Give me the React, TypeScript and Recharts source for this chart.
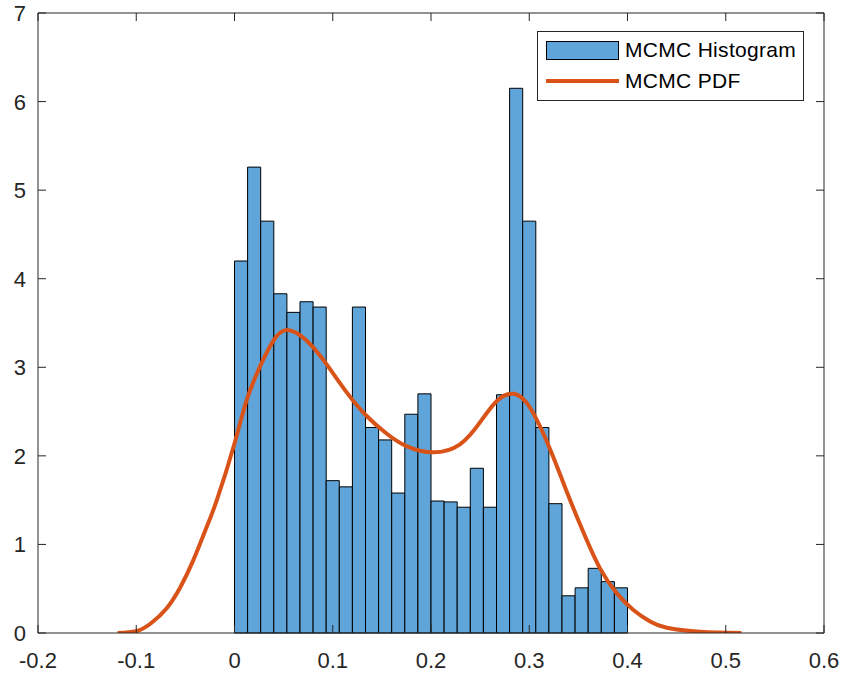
import { ComposedChart, Line, XAxis, YAxis, ReferenceArea } from 'recharts'

// histogram: 30 bins between 0 and 0.4, density values
const BIN_LO = 0
const BIN_HI = 0.4
const binDensity = [
  4.2, 5.26, 4.65, 3.83, 3.62, 3.74, 3.68, 1.72, 1.65, 3.68,
  2.32, 2.18, 1.58, 2.47, 2.7, 1.49, 1.48, 1.42, 1.86, 1.42,
  2.69, 6.15, 4.65, 2.32, 1.46, 0.42, 0.51, 0.73, 0.58, 0.51,
]

// fitted pdf
const pdfX = [
  -0.119, -0.1, -0.085, -0.069, -0.055, -0.042, -0.03, -0.018, 0, 0.0124,
  0.026, 0.039, 0.053, 0.0735, 0.094, 0.114, 0.1345, 0.155, 0.175, 0.202,
  0.2295, 0.25, 0.267, 0.284, 0.301, 0.321, 0.338, 0.355, 0.372, 0.389,
  0.406, 0.423, 0.44, 0.474, 0.516,
]
const pdfY = [
  0, 0.02, 0.11, 0.28, 0.52, 0.82, 1.15, 1.5, 2.14, 2.63,
  3.01, 3.29, 3.42, 3.3, 3.03, 2.72, 2.45, 2.25, 2.11, 2.04,
  2.13, 2.38, 2.62, 2.7, 2.54, 2.08, 1.6, 1.14, 0.73, 0.45,
  0.26, 0.13, 0.06, 0.015, 0,
]

const xTicks = [-0.2, -0.1, 0, 0.1, 0.2, 0.3, 0.4, 0.5, 0.6]
const yTicks = [0, 1, 2, 3, 4, 5, 6, 7]

const AXIS = '#262626'
const BAR_FILL = '#5FA5D9'
const PDF_COLOR = '#D95319'
const FONT = '"Liberation Sans", Arial, sans-serif'

const pdfData = pdfX.map((x, i) => ({ x, y: pdfY[i] }))
const binWidth = (BIN_HI - BIN_LO) / binDensity.length
const bins = binDensity.map((d, i) => ({ x1: BIN_LO + i * binWidth, x2: BIN_LO + (i + 1) * binWidth, d }))

const fmt = (v: number) => String(Math.round(v * 10) / 10)

const BottomTick = ({ x, y, payload }: any) => (
  <g>
    <line x1={x} x2={x} y1={y} y2={y - 8} stroke={AXIS} strokeWidth={1} />
    <text x={x} y={y + 35} textAnchor="middle" fill={AXIS} style={{ fontSize: 22, fontFamily: FONT }}>
      {fmt(payload.value)}
    </text>
  </g>
)

const TopTick = ({ x, y }: any) => (
  <line x1={x} x2={x} y1={y} y2={y + 8} stroke={AXIS} strokeWidth={1} />
)

const LeftTick = ({ x, y, payload }: any) => (
  <g>
    <line x1={x} x2={x + 8} y1={y} y2={y} stroke={AXIS} strokeWidth={1} />
    <text x={x - 12} y={y + 8} textAnchor="end" fill={AXIS} style={{ fontSize: 22, fontFamily: FONT }}>
      {payload.value}
    </text>
  </g>
)

const RightTick = ({ x, y }: any) => (
  <line x1={x} x2={x - 8} y1={y} y2={y} stroke={AXIS} strokeWidth={1} />
)

const LegendBox = () => (
  <div
    style={{
      position: 'absolute',
      left: 537,
      top: 31,
      width: 267,
      height: 70,
      border: `1px solid ${AXIS}`,
      background: '#fff',
      fontFamily: FONT,
      fontSize: 21,
      letterSpacing: 0.3,
      color: '#000',
      boxSizing: 'border-box',
    }}
  >
    <div style={{ position: 'absolute', left: 8, top: 9, width: 73, height: 19, background: BAR_FILL, border: '1px solid #000', boxSizing: 'border-box' }} />
    <div style={{ position: 'absolute', left: 87, top: 5, lineHeight: '26px' }}>MCMC Histogram</div>
    <div style={{ position: 'absolute', left: 8, top: 47, width: 73, height: 4, background: PDF_COLOR }} />
    <div style={{ position: 'absolute', left: 87, top: 36, lineHeight: '26px' }}>MCMC PDF</div>
  </div>
)

export default function App() {
  return (
    <div style={{ position: 'absolute', left: 0, top: 0, width: 846, height: 679, background: '#fff' }}>
      <ComposedChart width={846} height={679} data={pdfData} margin={{ top: 12, right: 21, bottom: 16, left: 8 }}>
        <XAxis
          dataKey="x"
          type="number"
          domain={[-0.2, 0.6]}
          ticks={xTicks}
          allowDataOverflow
          stroke={AXIS}
          tickLine={false}
          tickSize={0}
          tickMargin={0}
          height={30}
          tick={<BottomTick />}
        />
        <XAxis
          xAxisId="top"
          orientation="top"
          dataKey="x"
          type="number"
          domain={[-0.2, 0.6]}
          ticks={xTicks}
          allowDataOverflow
          stroke={AXIS}
          tickLine={false}
          tickSize={0}
          tickMargin={0}
          height={1}
          tick={<TopTick />}
        />
        <YAxis
          type="number"
          domain={[0, 7]}
          ticks={yTicks}
          allowDataOverflow
          stroke={AXIS}
          tickLine={false}
          tickSize={0}
          tickMargin={0}
          width={30}
          tick={<LeftTick />}
        />
        <YAxis
          yAxisId="right"
          orientation="right"
          type="number"
          domain={[0, 7]}
          ticks={yTicks}
          allowDataOverflow
          stroke={AXIS}
          tickLine={false}
          tickSize={0}
          tickMargin={0}
          width={1}
          tick={<RightTick />}
        />
        {bins.map((b, i) => (
          <ReferenceArea
            key={i}
            x1={b.x1}
            x2={b.x2}
            y1={0}
            y2={b.d}
            fill={BAR_FILL}
            fillOpacity={1}
            stroke="#000"
            strokeWidth={1}
            ifOverflow="visible"
          />
        ))}
        {/* hidden series so the mirrored top/right axes get drawn */}
        <Line
          xAxisId="top"
          yAxisId="right"
          dataKey="y"
          stroke="none"
          dot={false}
          activeDot={false}
          legendType="none"
          isAnimationActive={false}
        />
        <Line
          type="natural"
          dataKey="y"
          stroke={PDF_COLOR}
          strokeWidth={4}
          dot={false}
          activeDot={false}
          isAnimationActive={false}
        />
      </ComposedChart>
      <LegendBox />
    </div>
  )
}
